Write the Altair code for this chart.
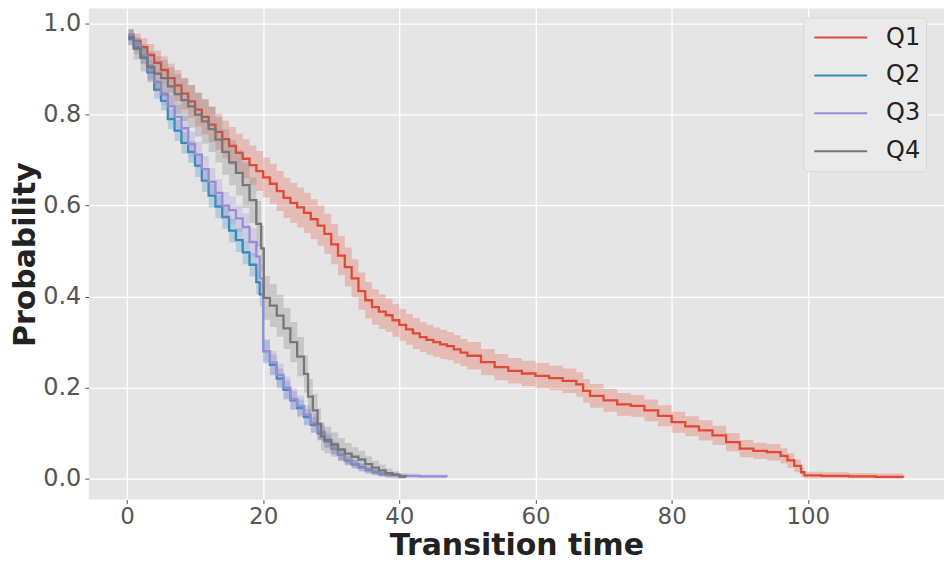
import altair as alt
import pandas as pd

SERIES = ["Q1", "Q2", "Q3", "Q4"]
COLORS = ["#E24A33", "#348ABD", "#988ED5", "#777777"]

# Q1 (red)
t1 = [0.3, 1, 2, 3, 4, 5, 6, 7, 8, 9, 10, 11, 12, 13, 14, 15, 16, 17, 18, 19,
      20, 21, 22, 23, 24, 25, 26, 27, 28, 29, 30, 31, 32, 33, 34, 35, 36, 37, 38, 39,
      40, 41, 42, 43, 44, 45, 46, 47, 48, 49, 50, 52, 54, 56, 58, 60, 62, 64, 66, 67,
      68, 70, 72, 74, 76, 78, 80, 82, 84, 86, 88, 90, 92, 94, 96, 97, 98, 99, 99.5, 102,
      106, 110, 114]
s1 = [0.975, 0.962, 0.948, 0.931, 0.914, 0.898, 0.880, 0.864, 0.846, 0.829,
      0.811, 0.795, 0.778, 0.762, 0.746, 0.731, 0.716, 0.703, 0.689, 0.676,
      0.662, 0.648, 0.632, 0.617, 0.606, 0.596, 0.584, 0.570, 0.556, 0.538,
      0.515, 0.490, 0.465, 0.440, 0.412, 0.392, 0.377, 0.367, 0.359, 0.348,
      0.338, 0.328, 0.319, 0.311, 0.305, 0.300, 0.295, 0.291, 0.284, 0.277,
      0.270, 0.256, 0.245, 0.237, 0.231, 0.226, 0.221, 0.215, 0.207, 0.193,
      0.182, 0.172, 0.163, 0.160, 0.150, 0.138, 0.124, 0.115, 0.106, 0.095,
      0.080, 0.066, 0.061, 0.058, 0.050, 0.040, 0.028, 0.014, 0.007, 0.006,
      0.005, 0.004, 0.002]
ci1 = [0.012, 0.016, 0.020, 0.024, 0.027, 0.030, 0.032, 0.034, 0.035, 0.036,
       0.037, 0.038, 0.039, 0.040, 0.041, 0.042, 0.042, 0.043, 0.043, 0.044,
       0.044, 0.044, 0.044, 0.044, 0.044, 0.044, 0.044, 0.044, 0.044, 0.044,
       0.044, 0.043, 0.043, 0.042, 0.041, 0.040, 0.039, 0.038, 0.037, 0.036,
       0.035, 0.034, 0.034, 0.033, 0.033, 0.032, 0.032, 0.031, 0.031, 0.030,
       0.030, 0.029, 0.029, 0.028, 0.028, 0.028, 0.027, 0.027, 0.027, 0.026,
       0.026, 0.025, 0.025, 0.024, 0.024, 0.023, 0.023, 0.022, 0.022, 0.021,
       0.020, 0.019, 0.018, 0.018, 0.017, 0.016, 0.014, 0.010, 0.008, 0.008,
       0.007, 0.007, 0.006]

# Q2 (blue)
t2 = [0.2, 1, 2, 3, 4, 5, 6, 7, 8, 9, 10, 11, 12, 13, 14, 15, 16, 17, 18, 19,
      19.5, 20, 21, 22, 23, 24, 25, 26, 27, 28, 29, 30, 31, 32, 33, 34, 35, 36, 37, 38,
      40, 41]
s2 = [0.966, 0.948, 0.928, 0.893, 0.855, 0.830, 0.790, 0.765, 0.738, 0.718,
      0.688, 0.655, 0.622, 0.598, 0.575, 0.545, 0.524, 0.497, 0.470, 0.432,
      0.405, 0.280, 0.250, 0.220, 0.195, 0.172, 0.155, 0.135, 0.118, 0.100,
      0.082, 0.066, 0.052, 0.040, 0.032, 0.025, 0.019, 0.015, 0.011, 0.008,
      0.005, 0.004]
ci2 = [0.012, 0.014, 0.016, 0.018, 0.020, 0.021, 0.022, 0.023, 0.024, 0.024,
       0.025, 0.025, 0.026, 0.026, 0.026, 0.026, 0.026, 0.026, 0.026, 0.026,
       0.026, 0.024, 0.023, 0.022, 0.021, 0.020, 0.019, 0.018, 0.017, 0.016,
       0.014, 0.013, 0.011, 0.010, 0.009, 0.008, 0.007, 0.006, 0.005, 0.004,
       0.003, 0.003]

# Q3 (purple)
t3 = [0.2, 1, 2, 3, 4, 5, 6, 7, 8, 9, 10, 11, 12, 13, 14, 15, 16, 17, 18, 19,
      19.5, 20, 21, 22, 23, 24, 25, 26, 27, 28, 29, 30, 31, 32, 33, 34, 35, 36, 37, 38,
      40, 43, 47]
s3 = [0.975, 0.955, 0.930, 0.900, 0.872, 0.845, 0.818, 0.795, 0.770, 0.735,
      0.712, 0.680, 0.652, 0.628, 0.600, 0.590, 0.572, 0.553, 0.520, 0.488,
      0.440, 0.280, 0.255, 0.228, 0.200, 0.175, 0.160, 0.140, 0.122, 0.103,
      0.085, 0.068, 0.052, 0.040, 0.031, 0.024, 0.018, 0.014, 0.010, 0.008,
      0.006, 0.005, 0.004]
ci3 = [0.012, 0.015, 0.018, 0.020, 0.022, 0.024, 0.025, 0.026, 0.027, 0.028,
       0.029, 0.029, 0.030, 0.030, 0.030, 0.030, 0.030, 0.030, 0.030, 0.030,
       0.030, 0.027, 0.026, 0.025, 0.024, 0.023, 0.022, 0.021, 0.020, 0.018,
       0.016, 0.014, 0.013, 0.011, 0.010, 0.009, 0.008, 0.007, 0.006, 0.005,
       0.005, 0.004, 0.004]

# Q4 (gray)
t4 = [0.2, 1, 2, 3, 4, 5, 6, 7, 8, 9, 10, 11, 12, 13, 14, 15, 16, 17, 18, 19,
      19.7, 20.1, 21, 22, 23, 24, 25, 26, 26.6, 27.3, 28, 28.5, 29, 30, 31, 32, 33, 34, 35, 36,
      37, 38, 39, 40, 41]
s4 = [0.970, 0.945, 0.925, 0.905, 0.890, 0.880, 0.862, 0.845, 0.832, 0.818,
      0.800, 0.785, 0.768, 0.745, 0.718, 0.695, 0.672, 0.645, 0.612, 0.560,
      0.506, 0.397, 0.380, 0.358, 0.330, 0.300, 0.268, 0.230, 0.180, 0.150,
      0.120, 0.093, 0.085, 0.075, 0.064, 0.055, 0.048, 0.042, 0.032, 0.024,
      0.018, 0.012, 0.008, 0.005, 0.004]
ci4 = [0.018, 0.024, 0.030, 0.034, 0.038, 0.040, 0.042, 0.044, 0.046, 0.047,
       0.048, 0.049, 0.050, 0.050, 0.050, 0.050, 0.050, 0.050, 0.050, 0.050,
       0.050, 0.048, 0.047, 0.046, 0.045, 0.044, 0.043, 0.041, 0.039, 0.036,
       0.034, 0.031, 0.029, 0.027, 0.025, 0.023, 0.021, 0.019, 0.017, 0.015,
       0.013, 0.010, 0.008, 0.006, 0.005]

X_TICKS = [0, 20, 40, 60, 80, 100]
Y_TICKS = [0.0, 0.2, 0.4, 0.6, 0.8, 1.0]

rows = []
for name, ts, ss, cs in zip(SERIES, [t1, t2, t3, t4], [s1, s2, s3, s4], [ci1, ci2, ci3, ci4]):
    for t, s, c in zip(ts, ss, cs):
        rows.append({"series": name, "t": t, "s": s, "lo": max(s - c, 0.0), "hi": min(s + c, 1.0)})
df = pd.DataFrame(rows)

xscale = alt.Scale(domain=[-5.6, 120.0], nice=False, zero=False)
yscale = alt.Scale(domain=[-0.046, 1.033], nice=False, zero=False)

layers = []
for name, col in zip(SERIES, COLORS):
    sub = df[df.series == name]
    band = alt.Chart(sub).mark_area(interpolate="step-after", opacity=0.27, color=col).encode(
        x=alt.X("t:Q", scale=xscale),
        y=alt.Y("lo:Q", scale=yscale),
        y2="hi:Q",
    )
    line = alt.Chart(sub).mark_line(interpolate="step-after", strokeWidth=2.3).encode(
        x=alt.X("t:Q", scale=xscale,
                axis=alt.Axis(values=X_TICKS, title="Transition time", format="d")),
        y=alt.Y("s:Q", scale=yscale,
                axis=alt.Axis(values=Y_TICKS, title="Probability", format=".1f")),
        color=alt.Color("series:N",
                        scale=alt.Scale(domain=SERIES, range=COLORS),
                        legend=alt.Legend(title=None, orient="none", legendX=716, legendY=9,
                                          symbolType="stroke", symbolSize=2800,
                                          symbolStrokeWidth=2, symbolOffset=5,
                                          labelFontSize=24,
                                          labelColor="#222222", labelFont="DejaVu Sans",
                                          fillColor="#EAEAEA", strokeColor="#D6D6D6",
                                          cornerRadius=4, padding=5, rowPadding=8,
                                          clipHeight=30, labelOffset=18)),
    )
    layers.append(band)
    layers.append(line)

chart = alt.layer(*layers).properties(
    width=857, height=492,
    autosize=alt.AutoSizeParams(type="none"),
    padding={"left": 81, "top": 0, "right": 0, "bottom": 62},
    background="white",
).configure_view(
    fill="#E5E5E5", stroke=None
).configure_axis(
    domain=False,
    grid=True, gridColor="#FFFFFF", gridWidth=1.3,
    tickColor="#555555", tickSize=4, tickWidth=1,
    labelFont="DejaVu Sans", labelFontSize=24, labelColor="#555555", labelPadding=4,
    titleFont="DejaVu Sans", titleFontWeight="bold", titleColor="#222222",
).configure_axisY(
    titlePadding=2, titleFontSize=30
).configure_axisX(
    titlePadding=2, titleFontSize=30, labelPadding=2, labelFontSize=23
)

chart.save("out.html", embed_options={"renderer": "svg", "actions": False})
